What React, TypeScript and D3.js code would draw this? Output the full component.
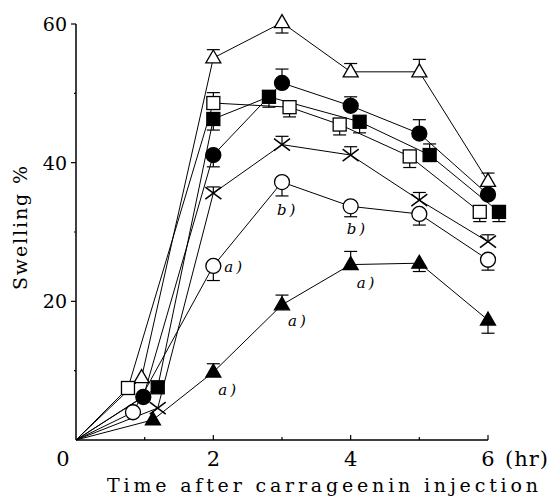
import React from "react";
import * as d3 from "d3";

// ---- data (hours, swelling %, signed error: + up / - down) ----
const openTriangleT = [0, 0.955, 2, 3, 4, 5, 6];
const openTriangleV = [0, 9.0, 55.1, 60.2, 53.1, 53.1, 37.3];
const openTriangleE = [0, 0, 1.2, -1.5, 1.2, 1.8, 1.2];

const filledCircleT = [0, 0.98, 2, 3, 4, 5, 6];
const filledCircleV = [0, 6.2, 41.1, 51.5, 48.2, 44.2, 35.4];
const filledCircleE = [0, 0, -1.7, 2.0, 1.3, 2.0, 0];

const openSquareT = [0, 0.757, 2, 3.11, 3.84, 4.86, 5.88];
const openSquareV = [0, 7.5, 48.6, 48.0, 45.5, 40.9, 32.9];
const openSquareE = [0, 0, 1.5, -1.4, -1.5, -1.6, -1.4];

const filledSquareT = [0, 1.19, 2, 2.81, 4.13, 5.15, 6.16];
const filledSquareV = [0, 7.6, 46.3, 49.5, 45.9, 41.1, 32.9];
const filledSquareE = [0, 0, -1.6, -1.5, -1.6, 1.6, -1.4];

const crossT = [0, 1.19, 2, 3, 4, 5, 6];
const crossV = [0, 4.6, 35.6, 42.6, 41.1, 34.6, 28.6];
const crossE = [0, 0, 0.9, 1.2, 1.2, 1.1, 1.0];

const openCircleT = [0, 0.83, 2, 3, 4, 5, 6];
const openCircleV = [0, 4.0, 25.1, 37.2, 33.7, 32.6, 26.0];
const openCircleE = [0, 0, -2.1, -2.0, -1.5, -1.6, -1.5];

const filledTriangleT = [0, 1.12, 2, 3, 4, 5, 6];
const filledTriangleV = [0, 2.9, 9.8, 19.5, 25.3, 25.5, 17.3];
const filledTriangleE = [0, 0, 1.2, 1.4, 1.9, -1.2, -1.9];

const xTicks = [0, 2, 4, 6];
const yTicks = [20, 40, 60];

const annotations = [
  { t: 2, v: 25.1, label: "a)", dx: 11, dy: 6 },
  { t: 2, v: 9.8, label: "a)", dx: 5, dy: 23 },
  { t: 3, v: 19.5, label: "a)", dx: 6, dy: 21 },
  { t: 4, v: 25.3, label: "a)", dx: 6, dy: 23 },
  { t: 3, v: 37.2, label: "b)", dx: -5, dy: 33 },
  { t: 4, v: 33.7, label: "b)", dx: -4, dy: 28 },
];

type Kind = "oTri" | "fTri" | "oCir" | "fCir" | "oSq" | "fSq" | "cross";
const series: { kind: Kind; t: number[]; v: number[]; e: number[] }[] = [
  { kind: "oTri", t: openTriangleT, v: openTriangleV, e: openTriangleE },
  { kind: "fCir", t: filledCircleT, v: filledCircleV, e: filledCircleE },
  { kind: "oSq", t: openSquareT, v: openSquareV, e: openSquareE },
  { kind: "fSq", t: filledSquareT, v: filledSquareV, e: filledSquareE },
  { kind: "cross", t: crossT, v: crossV, e: crossE },
  { kind: "oCir", t: openCircleT, v: openCircleV, e: openCircleE },
  { kind: "fTri", t: filledTriangleT, v: filledTriangleV, e: filledTriangleE },
];

const FONT = '"DejaVu Serif"';

function Marker({ kind, cx, cy }: { kind: Kind; cx: number; cy: number }) {
  const sw = 1.3;
  switch (kind) {
    case "oCir":
    case "fCir":
      return (
        <circle cx={cx} cy={cy} r={7.5} fill={kind === "fCir" ? "#000" : "#fff"} stroke="#000" strokeWidth={sw} />
      );
    case "oSq":
    case "fSq":
      return (
        <rect x={cx - 6.5} y={cy - 6.5} width={13} height={13} fill={kind === "fSq" ? "#000" : "#fff"} stroke="#000" strokeWidth={sw} />
      );
    case "oTri":
    case "fTri": {
      const p = `M${cx},${cy - 8} L${cx + 7.5},${cy + 5} L${cx - 7.5},${cy + 5} Z`;
      return <path d={p} fill={kind === "fTri" ? "#000" : "#fff"} stroke="#000" strokeWidth={sw} />;
    }
    case "cross":
      return (
        <g stroke="#000" strokeWidth={1.5}>
          <line x1={cx - 8} y1={cy - 6} x2={cx + 8} y2={cy + 6} />
          <line x1={cx - 8} y1={cy + 6} x2={cx + 8} y2={cy - 6} />
        </g>
      );
  }
}

export default function App() {
  const W = 558, H = 500;
  const x = d3.scaleLinear().domain([0, 6]).range([76, 488]);
  const y = d3.scaleLinear().domain([0, 60]).range([440, 24]);
  const line = d3.line<[number, number]>().x((d) => x(d[0])).y((d) => y(d[1]));
  const ts: React.CSSProperties = { fontFamily: FONT };

  return (
    <svg width={W} height={H} style={{ position: "absolute", left: 0, top: 0, background: "#fff" }}>
      <rect width={W} height={H} fill="#fff" />
      {/* axes */}
      <line x1={x(0)} y1={y(0)} x2={x(6)} y2={y(0)} stroke="#000" strokeWidth={1.5} />
      <line x1={x(0)} y1={y(0)} x2={x(0)} y2={y(60)} stroke="#000" strokeWidth={1.5} />
      {d3.range(1, 7).map((t) => (
        <line key={"xt" + t} x1={x(t)} x2={x(t)} y1={y(0)} y2={y(0) - (t % 2 === 0 ? 5 : 3)} stroke="#000" strokeWidth={1.2} />
      ))}
      {d3.range(10, 61, 10).map((v) => (
        <line key={"yt" + v} x1={x(0)} x2={x(0) - (v % 20 === 0 ? 5 : 2)} y1={y(v)} y2={y(v)} stroke="#000" strokeWidth={1.2} />
      ))}
      {xTicks.map((t) => (
        <text key={"xl" + t} style={ts} x={x(t) - (t === 0 ? 13 : 0)} y={466} fontSize={21} textAnchor="middle">
          {t}
        </text>
      ))}
      <text style={ts} x={505} y={466} fontSize={21} letterSpacing={1}>(hr)</text>
      {yTicks.map((v) => (
        <text key={"yl" + v} style={ts} x={x(0) - 9} y={y(v) + 7} fontSize={19} textAnchor="end">
          {v}
        </text>
      ))}
      <text style={ts} x={107} y={492} fontSize={19} textLength={431} lengthAdjust="spacing">
        Time after carrageenin injection
      </text>
      <text style={ts} transform={`translate(27,${290}) rotate(-90)`} x={0} y={0} fontSize={19} textLength={124} lengthAdjust="spacing">
        Swelling %
      </text>

      {/* lines */}
      {series.map((s, i) => (
        <path key={"ln" + i} d={line(s.t.map((t, j) => [t, s.v[j]] as [number, number])) || ""} fill="none" stroke="#000" strokeWidth={1} />
      ))}
      {/* error bars */}
      {series.map((s, i) =>
        s.t.map((t, j) =>
          s.e[j] === 0 ? null : (
            <g key={`eb${i}-${j}`} stroke="#000" strokeWidth={1.2}>
              <line x1={x(t)} x2={x(t)} y1={y(s.v[j])} y2={y(s.v[j] + s.e[j])} />
              <line x1={x(t) - 6.5} x2={x(t) + 6.5} y1={y(s.v[j] + s.e[j])} y2={y(s.v[j] + s.e[j])} />
            </g>
          )
        )
      )}
      {/* markers */}
      {series.map((s, i) =>
        s.t.map((t, j) => (j === 0 ? null : <Marker key={`mk${i}-${j}`} kind={s.kind} cx={x(t)} cy={y(s.v[j])} />))
      )}
      {/* annotations */}
      {annotations.map((a, i) => (
        <text key={"an" + i} style={ts} x={x(a.t) + a.dx} y={y(a.v) + a.dy} fontSize={15} fontStyle="italic" letterSpacing={3}>
          {a.label}
        </text>
      ))}
    </svg>
  );
}
